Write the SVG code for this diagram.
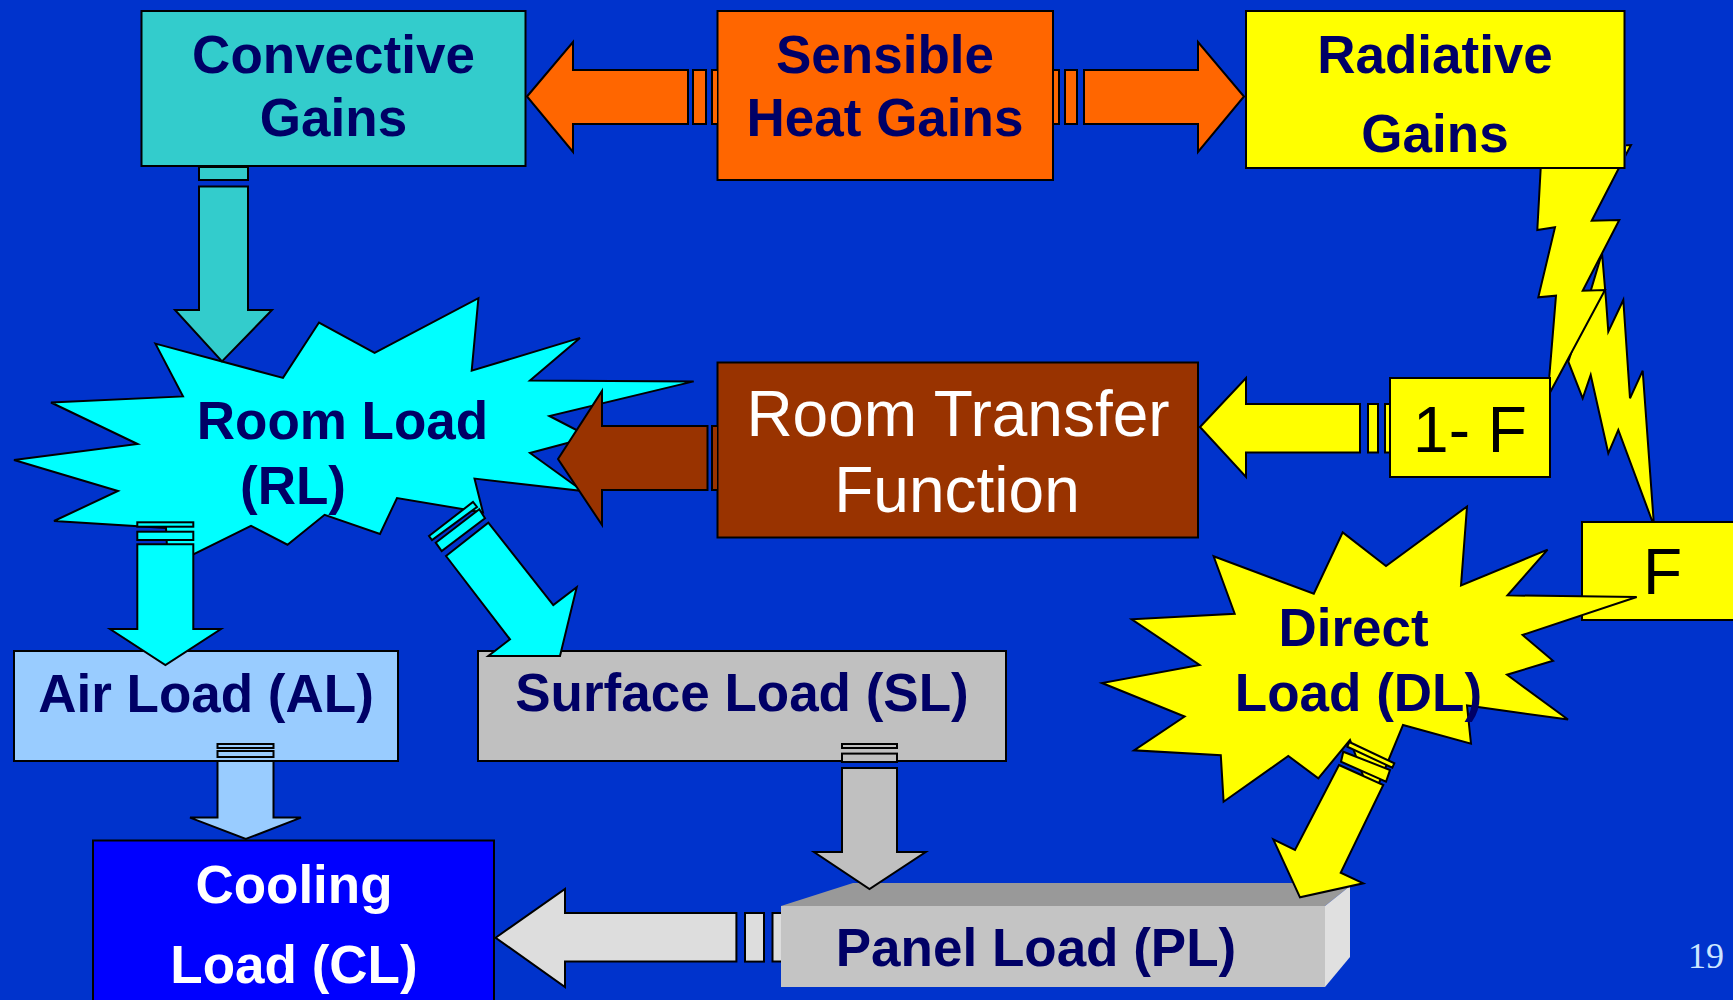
<svg xmlns="http://www.w3.org/2000/svg" width="1733" height="1000" viewBox="0 0 1733 1000">
<defs>
<style>
.s{stroke:#000;stroke-width:2;stroke-linejoin:miter}
.b{font-family:"Liberation Sans",Arial,Helvetica,sans-serif;font-weight:bold;font-size:53px;fill:#000066;text-anchor:middle}
.w{fill:#fff}
.r{font-family:"Liberation Sans",Arial,Helvetica,sans-serif;font-size:64px;text-anchor:middle}
.or{fill:#FF6600}.ye{fill:#FFFF00}.cy{fill:#00FFFF}.tq{fill:#33CCCC}.br{fill:#993300}.lb{fill:#99CCFF}.gr{fill:#C0C0C0}.lg{fill:#DDDDDD}
</style>
<clipPath id="boltClip">
<path clip-rule="evenodd" d="M0 0H1733V1000H0Z M1245 10H1626V169H1245Z M1389 377H1551V478H1389Z M1581 521H1740V621H1581Z"/>
</clipPath>
</defs>
<rect width="1733" height="1000" fill="#0033CC"/>

<g id="bolts" clip-path="url(#boltClip)">
<polygon class="s ye" points="1602,253 1606,300 1608.3,331.7 1623.3,300 1630,398.3 1642.7,370.7 1654,526 1618.3,430 1608.3,453.3 1590.7,375 1582.7,398.3 1568.3,361.7 1585,310"/>
<polygon class="s ye" points="1631,145 1618.3,169.3 1591.7,220.7 1619.3,220 1582.7,290.7 1605,290 1546,400 1549.3,376.7 1556,295.7 1538.3,297.3 1555,227.3 1537.3,230 1540.7,168.3 1545,150"/>
</g>

<g id="node-convective">
<rect class="s tq" x="141.5" y="11" width="384" height="155"/>
<text class="b" x="333.5" y="73">Convective</text>
<text class="b" x="333.5" y="136">Gains</text>
</g>
<g id="node-sensible">
<rect class="s or" x="717.5" y="11" width="335.5" height="169"/>
<text class="b" x="885" y="73">Sensible</text>
<text class="b" x="885" y="136">Heat Gains</text>
</g>
<g id="node-radiative">
<rect class="s ye" x="1246" y="11" width="378.5" height="157"/>
<text class="b" x="1435" y="73">Radiative</text>
<text class="b" x="1435" y="152">Gains</text>
</g>
<g id="node-roomload">
<polygon class="s cy" points="155.4,343.6 283,377.9 319,322.5 374.6,352.9 478.4,298.2 471.7,370.7 580,337.9 530,380.4 693.7,381.4 549.4,416 590,437 530,453 582.7,491 474.5,478.6 483,512.5 397,498 380,534 324.6,514.8 287.5,544.7 251,525.8 168,567 166,528 54,521 118,491 14,460 137.6,444 51,402.5 183,396.4"/>
<text class="b" x="342.5" y="439">Room Load</text>
<text class="b" x="293" y="504">(RL)</text>
</g>
<g id="node-rtf">
<rect class="s br" x="717.5" y="362.5" width="480.5" height="175"/>
<text class="r w" x="958" y="436">Room Transfer</text>
<text class="r w" x="957" y="512">Function</text>
</g>
<g id="node-1minusF">
<rect class="s ye" x="1390" y="378" width="160" height="99"/>
<text class="r" x="1470" y="452" fill="#000">1- F</text>
</g>
<g id="node-F">
<rect class="s ye" x="1582" y="522" width="160" height="98"/>
<text class="r" x="1643" y="594" fill="#000" text-anchor="start" style="text-anchor:start">F</text>
</g>
<g id="node-directload">
<polygon class="s ye" points="1213.6,556.3 1313.8,593.8 1342.7,532.4 1386,566 1467,506.5 1461,585.5 1547.6,549.7 1507.5,595.4 1636.7,597 1522.6,635 1553,660.8 1507,674.7 1568,719.5 1467,705.5 1471,743.7 1403,725 1372,800 1350,740 1318.3,778.3 1288.3,756 1223.6,801.7 1220.8,755.3 1134,750.3 1184.6,716.5 1102,683 1199.6,665 1131.7,619.3 1234.7,613.7"/>
<text class="b" x="1353.5" y="646">Direct</text>
<text class="b" x="1358.5" y="710.5">Load (DL)</text>
</g>
<g id="node-airload">
<rect class="s lb" x="14" y="651" width="384" height="110"/>
<text class="b" x="206" y="711.5">Air Load (AL)</text>
</g>
<g id="node-surfaceload">
<rect class="s gr" x="478" y="651" width="528" height="110"/>
<text class="b" x="742" y="711">Surface Load (SL)</text>
</g>
<g id="node-cooling">
<rect class="s" x="93" y="840.5" width="401" height="170" fill="#0000FF"/>
<text class="b w" x="294" y="903">Cooling</text>
<text class="b w" x="294" y="982.5">Load (CL)</text>
</g>
<g id="node-panelload">
<polygon points="781,906 853,883 1350,883 1350,886 1325,906" fill="#999999"/>
<polygon points="1325,906 1350,886 1350,957 1325,987" fill="#E0E0E0"/>
<rect x="781" y="906" width="544" height="81" fill="#C4C4C4"/>
<text class="b" x="1036" y="966">Panel Load (PL)</text>
</g>

<g id="connectors">
<!-- Sensible -> Convective -->
<polygon class="s or" points="527,96.5 573,42 573,70 688,70 688,124 573,124 573,152"/>
<rect class="s or" x="693" y="70" width="13" height="54"/>
<polyline class="s or" points="717,70 712,70 712,124 717,124"/>
<!-- Sensible -> Radiative -->
<polyline class="s or" points="1054,70 1059,70 1059,124 1054,124"/>
<rect class="s or" x="1065" y="70" width="12" height="54"/>
<polygon class="s or" points="1084,70 1198,70 1198,42 1244,96.5 1198,152 1198,124 1084,124"/>
<!-- Convective -> Room Load -->
<rect class="s tq" x="199" y="167" width="49" height="13"/>
<polygon class="s tq" points="199,186.4 248,186.4 248,310 272,310 222,361.4 175,310 199,310"/>
<!-- 1-F -> Room Transfer -->
<polygon class="s ye" points="1200,427 1246,378 1246,404 1360,404 1360,452.5 1246,452.5 1246,477"/>
<rect class="s ye" x="1368" y="404" width="10" height="48.5"/>
<polyline class="s ye" points="1389,404 1385,404 1385,452.5 1389,452.5"/>
<!-- Room Transfer -> Room Load -->
<polygon class="s br" points="558,459 602,391 602,426 707.5,426 707.5,490 602,490 602,525"/>
<polyline class="s br" points="717,426 712,426 712,490 717,490"/>
<!-- Room Load -> Air Load -->
<rect class="s cy" x="137.3" y="522.3" width="56" height="4.4"/>
<rect class="s cy" x="137.3" y="531.7" width="56" height="8.3"/>
<polygon class="s cy" points="137.3,544.3 193.3,544.3 193.3,629 221,629 165.4,665 110,629 137.3,629"/>
<!-- Room Load -> Surface Load -->
<polygon class="s cy" points="429,536 473,502 477,507 432,540"/>
<polygon class="s cy" points="435.7,542.7 479.3,509.3 485,518.3 441.7,551"/>
<polygon class="s cy" points="446,556 488.3,522.7 553.3,605 576.7,587.3 560,656 488.3,656 510,639.3"/>
<!-- Air Load -> Cooling Load -->
<rect class="s lb" x="217.5" y="744" width="56" height="4"/>
<rect class="s lb" x="217.5" y="751" width="56" height="6"/>
<polygon class="s lb" points="217.5,761 273.5,761 273.5,817.6 301,817.6 245.8,839 190,817.6 217.5,817.6"/>
<!-- Surface Load -> Panel Load -->
<rect class="s gr" x="842" y="744" width="55" height="4"/>
<rect class="s gr" x="842" y="753.6" width="55" height="8.4"/>
<polygon class="s gr" points="842,768 897,768 897,852 925.7,852 869.5,889 814,852 842,852"/>
<!-- Direct Load -> Panel Load -->
<polygon class="s ye" points="1349.3,742 1394.3,763.3 1392.3,767.7 1347.3,746.7"/>
<polygon class="s ye" points="1343.3,751.7 1390,770 1386,781.7 1341,761.7"/>
<polygon class="s ye" points="1339,765 1383.3,785 1340.7,872.7 1363.3,883.3 1300,897.3 1273.3,839.3 1295,850"/>
<!-- Panel Load -> Cooling Load -->
<polygon class="s lg" points="495.6,937.7 565,889 565,913 736.4,913 736.4,961.6 565,961.6 565,987"/>
<rect class="s lg" x="745" y="913" width="19" height="48.6"/>
<polyline class="s lg" points="781,913 772.5,913 772.5,961.6 781,961.6"/>
</g>

<text x="1688" y="968" font-family="'Liberation Serif','Times New Roman',serif" font-size="36" fill="#CCE6FF">19</text>
</svg>
